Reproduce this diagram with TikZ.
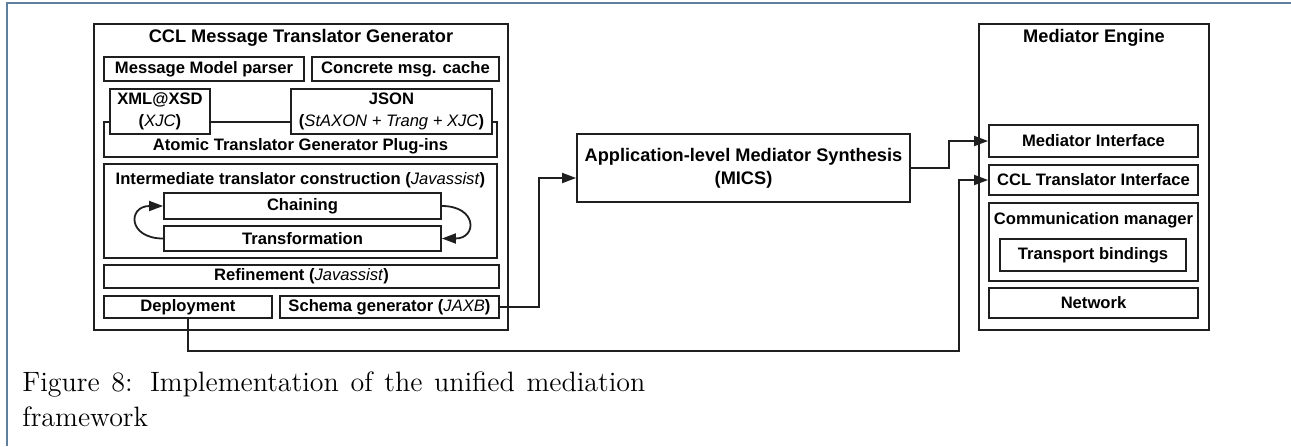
\documentclass[tikz,border=0pt]{standalone}
\usepackage{fontspec}
\setsansfont{Liberation Sans}
\usetikzlibrary{arrows.meta,positioning}
\definecolor{linecol}{gray}{0.12}
\definecolor{framecol}{RGB}{96,126,158}
\newcommand{\titlefont}{\fontsize{9.1}{11.5}\selectfont\sffamily\bfseries}
\newcommand{\boxfont}{\fontsize{8.3}{11}\selectfont\sffamily\bfseries}
\newcommand{\tool}[1]{\textmd{\textit{#1}}}
\tikzset{
  box/.style={draw=linecol, line width=0.9pt, fill=white, inner sep=0pt, font=\boxfont, align=center},
  title/.style={font=\titlefont, inner sep=0pt, align=center},
  conn/.style={draw=linecol, line width=0.9pt, -{Triangle[length=7pt,width=5pt]}},
  caption/.style={anchor=base west, inner sep=0pt, font=\fontsize{14}{17.5}\selectfont}
}
\begin{document}
\begin{tikzpicture}[x=0.5pt,y=-0.5pt]
\useasboundingbox (0,0) rectangle (1291,446);
% page frame
\draw[framecol, line width=1pt] (7,446) -- (7,3) -- (1291,3);

% CCL Message Translator Generator
\node[box, minimum width=207pt, minimum height=153pt] (gen) at (301,177) {};
\node[title] (gentitle) at (301,38) {CCL Message Translator Generator};
\node[box, minimum width=100pt, minimum height=12pt] (parser) at (204,69) {Message Model parser};
\node[box, minimum width=93.5pt, minimum height=12pt] (cache) at (405.5,69) {Concrete msg. cache};
\node[box, minimum width=196.5pt, minimum height=17.5pt] (plugins) at (300.5,139.5) {};
\node[font=\boxfont, inner sep=0pt] (pluginstitle) at (300.5,146) {Atomic Translator Generator Plug-ins};
\node[box, minimum width=50pt, minimum height=22.5pt] (xml) at (160,111.5) {XML@XSD\\(\tool{XJC})};
\node[box, minimum width=100.5pt, minimum height=22.5pt] (json) at (391.5,111.5) {JSON\\(\tool{StAXON + Trang + XJC})};
\node[box, minimum width=196.5pt, minimum height=47pt] (inter) at (300.5,211) {};
\node[font=\boxfont, inner sep=0pt] (intertitle) at (300.5,180) {Intermediate translator construction (\tool{Javassist})};
\node[box, minimum width=138.5pt, minimum height=13pt] (chain) at (302.5,206) {Chaining};
\node[box, minimum width=138.5pt, minimum height=12.5pt] (trans) at (302.5,238.5) {Transformation};
\node[box, minimum width=197.5pt, minimum height=11.5pt] (refine) at (301.5,276.5) {Refinement (\tool{Javassist})};
\node[box, minimum width=84pt, minimum height=11pt] (deploy) at (188,307) {Deployment};
\node[box, minimum width=109.5pt, minimum height=11pt] (schema) at (389.5,307) {Schema generator (\tool{JAXB})};

% loops
\draw[conn] (trans.west) to[out=180,in=180,looseness=2.8] (chain.west);
\draw[conn] (chain.east) to[out=0,in=0,looseness=2.8] (trans.east);

% MICS
\node[box, font=\titlefont, minimum width=166.5pt, minimum height=34pt] (mics) at (743.5,168) {Application-level Mediator Synthesis\\(MICS)};

% Mediator Engine
\node[box, minimum width=115pt, minimum height=153pt] (engine) at (1094,177) {};
\node[title] (enginetitle) at (1094,38) {Mediator Engine};
\node[box, minimum width=104.5pt, minimum height=16pt] (medif) at (1093.5,141) {Mediator Interface};
\node[box, minimum width=104.5pt, minimum height=15pt] (cclif) at (1093.5,180) {CCL Translator Interface};
\node[box, minimum width=104.5pt, minimum height=39pt] (comm) at (1093.5,242) {};
\node[font=\boxfont, inner sep=0pt] (commtitle) at (1093.5,220) {Communication manager};
\node[box, minimum width=93pt, minimum height=16pt] (transport) at (1093,255) {Transport bindings};
\node[box, minimum width=104.5pt, minimum height=15pt] (network) at (1093.5,303) {Network};

% connectors
\draw[conn] (schema.east) -- ++(39,0) |- ([yshift=-5pt]mics.west);
\draw[conn] (mics.east) -- ++(38,0) |- (medif.west);
\coordinate (bend) at (959,351);
\draw[conn] (deploy.south) |- (bend) |- (cclif.west);

% caption
\node[caption] (cap1) at (22,391) {\makebox[311.5pt][s]{Figure 8: Implementation of the unified mediation}};
\node[caption] (cap2) at (22,426) {framework};
\end{tikzpicture}
\end{document}
